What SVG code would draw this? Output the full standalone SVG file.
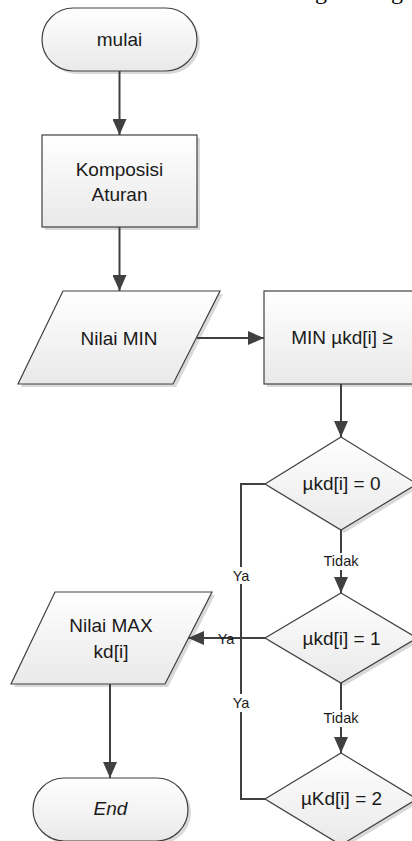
<svg xmlns="http://www.w3.org/2000/svg" width="412" height="841" viewBox="0 0 412 841">
  <defs>
    <linearGradient id="g" x1="0" y1="0" x2="0" y2="1">
      <stop offset="0" stop-color="#ffffff"/>
      <stop offset="1" stop-color="#e9e9e9"/>
    </linearGradient>
    <marker id="arr" markerUnits="userSpaceOnUse" markerWidth="16" markerHeight="14" refX="16" refY="7" orient="auto">
      <path d="M0,0 L16,7 L0,14 z" fill="#404040"/>
    </marker>
  </defs>
  <style>
    .shape { fill: url(#g); stroke: #404040; stroke-width: 1.2; }
    .shadow { fill: #d9d9d9; stroke: none; }
    .t { font-family: "Liberation Sans", Arial, sans-serif; font-size: 19px; fill: #1a1a1a; text-anchor: middle; }
    .lbl { font-family: "Liberation Sans", Arial, sans-serif; font-size: 14.5px; fill: #1a1a1a; text-anchor: middle; }
    .c { fill: none; stroke: #404040; stroke-width: 2; }
    .bg { fill: #ffffff; }
    .frag { font-family: "Liberation Serif", "Times New Roman", serif; font-size: 24px; fill: #000; }
  </style>

  <text class="frag" x="315" y="-1">g</text>
  <text class="frag" x="391" y="-1">g</text>

  <g id="mulai">
    <rect class="shadow" x="45" y="11" width="155" height="63" rx="31.5"/>
    <rect class="shape" x="42" y="8" width="155" height="63" rx="31.5"/>
    <text class="t" x="119.5" y="46">mulai</text>
  </g>

  <g id="komposisi">
    <rect class="shadow" x="45" y="138" width="155" height="92"/>
    <rect class="shape" x="42" y="135" width="155" height="92"/>
    <text class="t" x="119.5" y="176">Komposisi</text>
    <text class="t" x="119.5" y="201">Aturan</text>
  </g>

  <g id="nilai-min">
    <polygon class="shadow" points="66,294 223,294 176,387 21,387"/>
    <polygon class="shape" points="63,291 220,291 173,384 18,384"/>
    <text class="t" x="119" y="345">Nilai MIN</text>
  </g>

  <g id="min-box">
    <rect class="shadow" x="267" y="294" width="160" height="93"/>
    <rect class="shape" x="264" y="291" width="160" height="93"/>
    <text class="t" x="342" y="344">MIN µkd[i] ≥</text>
  </g>

  <g id="d0">
    <polygon class="shadow" points="344,440 420,487 344,533 268,487"/>
    <polygon class="shape" points="341,437 417,484 341,530 265,484"/>
    <text class="t" x="341.5" y="490">µkd[i] = 0</text>
  </g>

  <g id="d1">
    <polygon class="shadow" points="344,596 420,641 344,686 268,641"/>
    <polygon class="shape" points="341,593 417,638 341,683 265,638"/>
    <text class="t" x="341.5" y="645">µkd[i] = 1</text>
  </g>

  <g id="d2">
    <polygon class="shadow" points="344,756 420,802 344,848 268,802"/>
    <polygon class="shape" points="341,753 417,799 341,845 265,799"/>
    <text class="t" x="341.5" y="805">µKd[i] = 2</text>
  </g>

  <g id="nilai-max">
    <polygon class="shadow" points="58,595 215,595 168,687 14,687"/>
    <polygon class="shape" points="55,592 212,592 165,684 11,684"/>
    <text class="t" x="111" y="632">Nilai MAX</text>
    <text class="t" x="111" y="658">kd[i]</text>
  </g>

  <g id="end">
    <rect class="shadow" x="36" y="781" width="155" height="63" rx="31.5"/>
    <rect class="shape" x="33" y="778" width="155" height="63" rx="31.5"/>
    <text class="t" x="110.5" y="815" font-style="italic">End</text>
  </g>

  <g id="connectors">
    <path class="c" d="M119.5,71 L119.5,135" marker-end="url(#arr)"/>
    <path class="c" d="M119.5,227 L119.5,291" marker-end="url(#arr)"/>
    <path class="c" d="M197,338 L264,338" marker-end="url(#arr)"/>
    <path class="c" d="M341,384 L341,437" marker-end="url(#arr)"/>
    <path class="c" d="M341,530 L341,593" marker-end="url(#arr)"/>
    <path class="c" d="M341,683 L341,753" marker-end="url(#arr)"/>
    <path class="c" d="M265,484 L241,484 L241,799 L265,799"/>
    <path class="c" d="M265,638 L188,638" marker-end="url(#arr)"/>
    <path class="c" d="M110,684 L110,778" marker-end="url(#arr)"/>

    <rect class="bg" x="321" y="553" width="40" height="17"/>
    <text class="lbl" x="341" y="566">Tidak</text>
    <rect class="bg" x="321" y="710" width="40" height="17"/>
    <text class="lbl" x="341" y="723">Tidak</text>
    <rect class="bg" x="232" y="567" width="18" height="17"/>
    <text class="lbl" x="241" y="581">Ya</text>
    <rect class="bg" x="232" y="694" width="18" height="18"/>
    <text class="lbl" x="241" y="708">Ya</text>
    <text class="lbl" x="226" y="644">Ya</text>
  </g>
</svg>
